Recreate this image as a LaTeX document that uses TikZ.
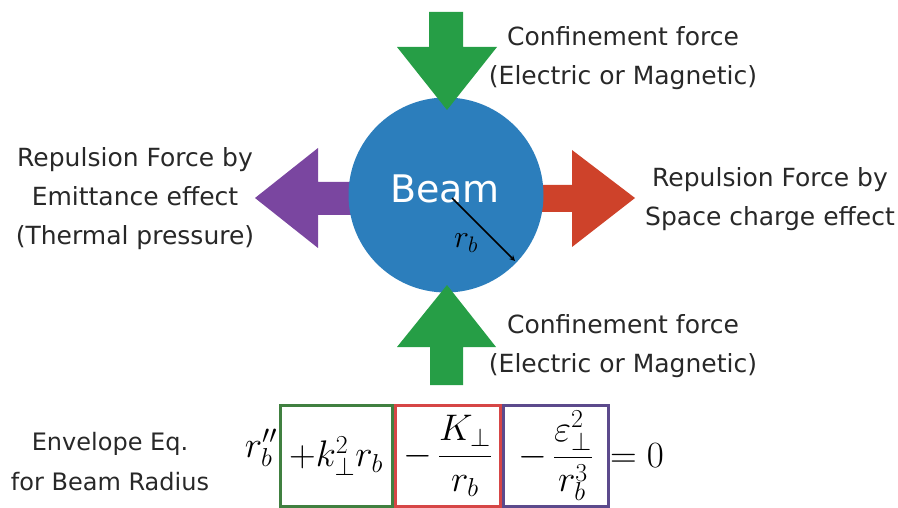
\RequirePackage{fix-cm}
\documentclass[tikz,border=0pt]{standalone}
\usepackage[no-math]{fontspec}
\newfontfamily\labelfont{DejaVu Sans}
\usetikzlibrary{positioning}
\definecolor{beamblue}{RGB}{44,126,188}
\definecolor{arrowgreen}{RGB}{38,158,70}
\definecolor{arrowpurple}{RGB}{122,70,160}
\definecolor{arrowred}{RGB}{206,66,42}
\definecolor{boxgreen}{RGB}{64,128,64}
\definecolor{boxred}{RGB}{214,70,70}
\definecolor{boxpurple}{RGB}{92,74,140}
\definecolor{textgray}{RGB}{40,40,40}
\begin{document}
\begin{tikzpicture}[x=1pt,y=-1pt,
  lbl/.style={font=\labelfont\fontsize{25}{39}\selectfont,text=textgray,align=center},
  eqbox/.style={draw,line width=3pt,minimum height=101pt,inner sep=0pt,
    font=\fontsize{37}{40}\selectfont}]
\useasboundingbox (0,0) rectangle (898,508);
% side arrows go under the beam
\fill[arrowpurple] (360,182)--(318,182)--(318,148)--(255,198)--(318,248)--(318,215)--(360,215)--cycle;
\fill[arrowred] (530,185)--(572,185)--(572,150)--(635,198)--(572,247)--(572,212)--(530,212)--cycle;
\node[circle,fill=beamblue,minimum size=195pt,inner sep=0pt] (beam) at (446,195) {};
\node[font=\labelfont\fontsize{38}{40}\selectfont,text=white] (beamtext) at (445,189) {Beam};
\coordinate (rstart) at (452,198);
\coordinate (rend) at (515,261);
\draw[-stealth,line width=1.5pt] (rstart)--(rend);
\node[font=\fontsize{32}{34}\selectfont] (rblabel) at (466,243) {$r_b$};
% confinement arrows on top
\fill[arrowgreen] (429,12)--(463,12)--(463,47)--(497,47)--(447,110)--(397,47)--(429,47)--cycle;
\fill[arrowgreen] (430,385)--(463,385)--(463,347)--(496,347)--(447,285)--(397,347)--(430,347)--cycle;
\node[lbl] (conftop) at (623,58) {Confinement force\\(Electric or Magnetic)};
\node[lbl] (confbot) at (623,346) {Confinement force\\(Electric or Magnetic)};
\node[lbl] (emit) at (135,199) {Repulsion Force by\\Emittance effect\\(Thermal pressure)};
\node[lbl] (space) at (770,199) {Repulsion Force by\\Space charge effect};
\node[lbl,font=\labelfont\fontsize{24}{40}\selectfont] (envtext) at (110,462) {Envelope Eq.\\for Beam Radius};
% envelope equation
\node[eqbox,draw=boxgreen,minimum width=112pt] (kterm) at (336,456) {$+k_\perp^2 r_b$};
\node[eqbox,draw=boxred,minimum width=105pt,right=0pt of kterm] (kperp) {$-\,\displaystyle\frac{K_\perp}{r_b}$};
\node[eqbox,draw=boxpurple,minimum width=105pt,right=0pt of kperp] (emterm) {$-\,\displaystyle\frac{\varepsilon_\perp^2}{r_b^3}$};
\node[font=\fontsize{37}{40}\selectfont,left=-2pt of kterm,yshift=8pt] (rpp) {$r_b''$};
\node[font=\fontsize{37}{40}\selectfont,right=-3pt of emterm] (rhs) {$=0$};
\end{tikzpicture}
\end{document}
